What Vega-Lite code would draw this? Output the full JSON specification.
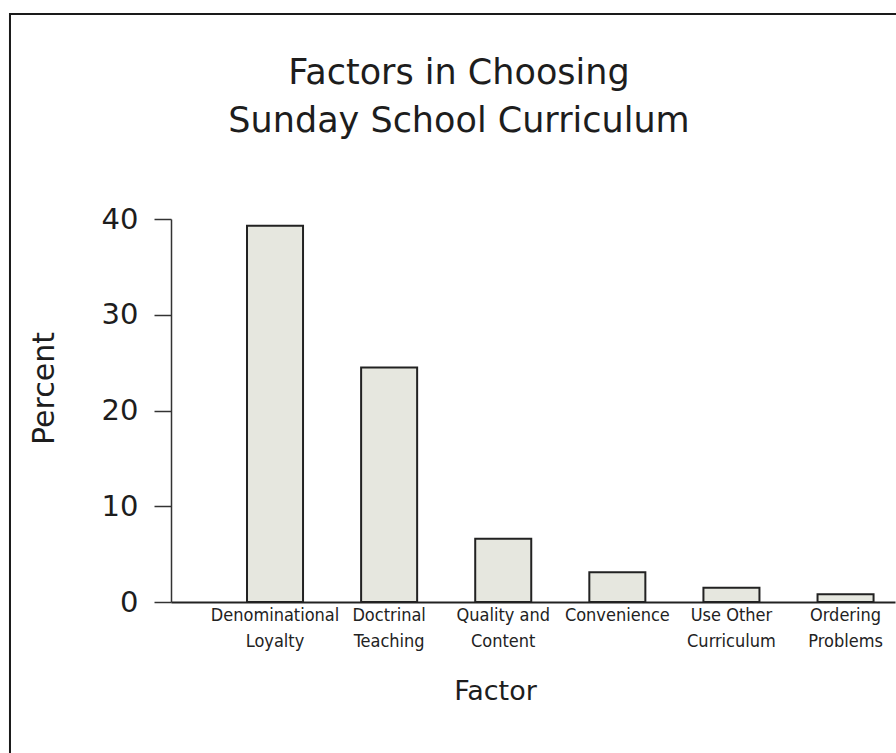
{
  "$schema": "https://vega.github.io/schema/vega-lite/v6.json",
  "autosize": "none",
  "width": 724,
  "height": 383,
  "padding": {"left": 171, "top": 219, "right": 1, "bottom": 151},
  "background": "white",
  "title": {
    "text": ["Factors in Choosing", "Sunday School Curriculum"],
    "font": "DejaVu Sans",
    "fontSize": 35,
    "fontWeight": "normal",
    "color": "#1d1d1d",
    "lineHeight": 48,
    "baseline": "top",
    "anchor": "middle",
    "frame": "group",
    "dx": -74,
    "offset": -126
  },
  "data": {
    "values": [
      {"factor": "Denominational Loyalty", "percent": 39.3},
      {"factor": "Doctrinal Teaching", "percent": 24.5},
      {"factor": "Quality and Content", "percent": 6.6},
      {"factor": "Convenience", "percent": 3.1},
      {"factor": "Use Other Curriculum", "percent": 1.5},
      {"factor": "Ordering Problems", "percent": 0.8}
    ]
  },
  "layer": [
    {
      "mark": {"type": "bar", "fill": "#e6e7df", "stroke": "#222222", "strokeWidth": 2},
      "encoding": {
        "x": {
          "field": "factor",
          "type": "nominal",
          "sort": null,
          "scale": {"paddingInner": 0.509, "paddingOuter": 0.427, "align": 0.78},
          "axis": {
            "title": "Factor",
            "titleFont": "DejaVu Sans",
            "titleFontSize": 27,
            "titleFontWeight": "normal",
            "titleColor": "#1d1d1d",
            "titleX": 324,
            "titleY": 97,
            "titleAlign": "center",
            "titleBaseline": "alphabetic",
            "labelFont": "'DejaVu Sans Condensed', 'Liberation Sans Narrow', 'Arial Narrow', sans-serif",
            "labelFontSize": 18,
            "labelColor": "#222222",
            "labelLineHeight": 26,
            "labelPadding": 4,
            "labelAngle": 0,
            "labelExpr": "indexof(datum.label, ' ') < 0 ? datum.label : [slice(datum.label, 0, lastindexof(datum.label, ' ')), slice(datum.label, lastindexof(datum.label, ' ') + 1)]",
            "ticks": false,
            "tickSize": 0,
            "domainColor": "#222222",
            "domainWidth": 2,
            "grid": false
          }
        },
        "y": {
          "field": "percent",
          "type": "quantitative",
          "scale": {"domain": [0, 40], "nice": false},
          "axis": {
            "title": "Percent",
            "titleFont": "DejaVu Sans",
            "titleFontSize": 30,
            "titleFontWeight": "normal",
            "titleColor": "#1d1d1d",
            "titleAngle": 270,
            "titleX": -118,
            "titleY": 169,
            "titleAlign": "center",
            "titleBaseline": "alphabetic",
            "values": [0, 10, 20, 30, 40],
            "labelFont": "DejaVu Sans",
            "labelFontSize": 29,
            "labelColor": "#1d1d1d",
            "labelPadding": 16,
            "tickSize": 17,
            "tickColor": "#333333",
            "tickWidth": 1.5,
            "domainColor": "#333333",
            "domainWidth": 1.5,
            "grid": false
          }
        }
      }
    },
    {
      "data": {"values": [{}]},
      "mark": {"type": "rect", "fill": null, "fillOpacity": 0, "stroke": "#1a1a1a", "strokeWidth": 2},
      "encoding": {
        "x": {"datum": -0.2224, "type": "quantitative", "scale": {"domain": [0, 1], "nice": false, "zero": false}, "axis": null},
        "x2": {"datum": 1.01},
        "y": {"datum": -16.3, "type": "quantitative", "scale": {"domain": [0, 40], "nice": false}, "axis": null},
        "y2": {"datum": 61.41}
      }
    }
  ],
  "resolve": {"scale": {"x": "independent", "y": "independent"}},
  "config": {"view": {"stroke": null}}
}
